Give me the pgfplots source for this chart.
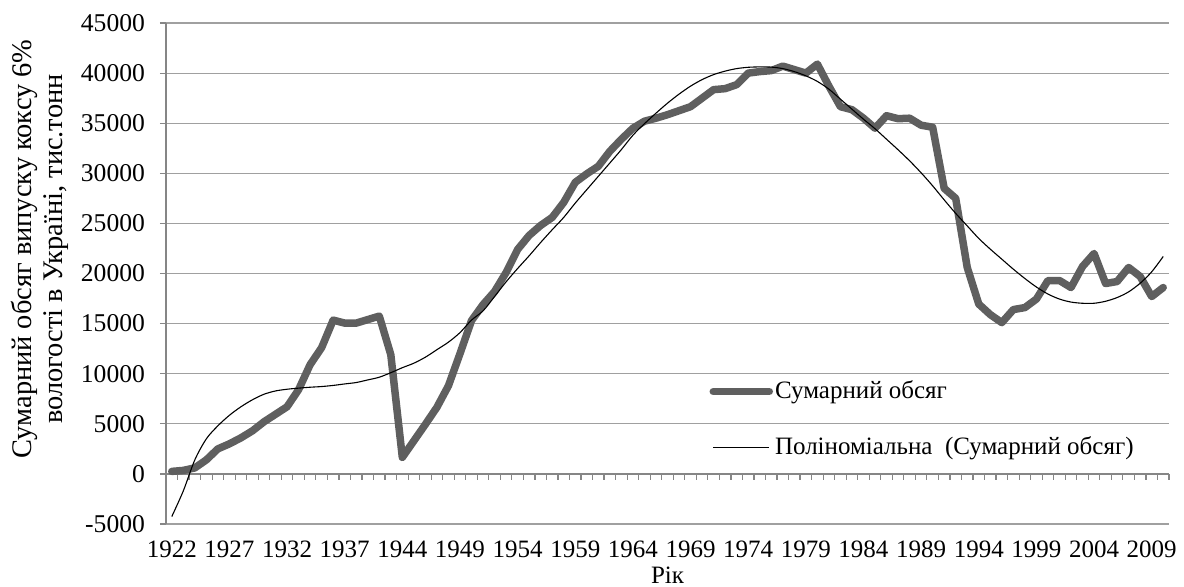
\documentclass[border=0pt]{standalone}
\usepackage{fontspec}
\setmainfont{Liberation Serif}
\usepackage{pgfplots}
\pgfplotsset{compat=1.18}
\definecolor{gridgray}{RGB}{160,160,160}
\definecolor{axisgray}{RGB}{134,134,134}
\definecolor{seriesgray}{RGB}{95,95,95}
\pgfplotstableread{
idx val
0 250
1 350
2 600
3 1400
4 2500
5 3000
6 3600
7 4300
8 5200
9 5950
10 6700
11 8400
12 10900
13 12600
14 15350
15 15050
16 15050
17 15400
18 15750
19 11900
20 1650
21 3300
22 4950
23 6650
24 8800
25 12000
26 15300
27 16900
28 18200
29 20100
30 22400
31 23800
32 24800
33 25600
34 27100
35 29100
36 29950
37 30700
38 32200
39 33400
40 34500
41 35200
42 35500
43 35850
44 36250
45 36650
46 37500
47 38350
48 38450
49 38850
50 40000
51 40150
52 40250
53 40700
54 40350
55 40000
56 40900
57 38700
58 36650
59 36350
60 35500
61 34500
62 35750
63 35450
64 35500
65 34800
66 34600
67 28500
68 27500
69 20600
70 16950
71 15900
72 15100
73 16400
74 16600
75 17450
76 19300
77 19300
78 18600
79 20700
80 22000
81 19000
82 19200
83 20600
84 19700
85 17700
86 18600
}\datatotal
\pgfplotstableread{
idx val
0 -4260
1 -1700
2 1400
3 3500
4 4800
5 5850
6 6700
7 7400
8 7950
9 8280
10 8450
11 8560
12 8650
13 8720
14 8830
15 8980
16 9120
17 9380
18 9650
19 10100
20 10600
21 11050
22 11650
23 12400
24 13150
25 14100
26 15350
27 16270
28 17700
29 19170
30 20500
31 21770
32 23100
33 24370
34 25600
35 27030
36 28370
37 29700
38 31030
39 32370
40 33800
41 34950
42 36000
43 37000
44 37900
45 38700
46 39350
47 39850
48 40200
49 40450
50 40580
51 40620
52 40600
53 40450
54 40150
55 39730
56 39170
57 38400
58 37400
59 36400
60 35400
61 34450
62 33400
63 32350
64 31250
65 30050
66 28750
67 27350
68 26000
69 24750
70 23500
71 22430
72 21430
73 20430
74 19500
75 18650
76 17950
77 17450
78 17150
79 17030
80 17030
81 17230
82 17600
83 18170
84 19030
85 20170
86 21700
}\datatrend
\begin{document}
\begin{tikzpicture}[font=\fontsize{12.5}{15}\selectfont]
\useasboundingbox (-83pt,-31pt) rectangle (509pt,262pt);
\begin{axis}[
  at={(0pt,0pt)}, anchor=south west,
  scale only axis, width=501.5pt, height=250.5pt,
  xmin=-0.5, xmax=86.5, ymin=-5000, ymax=45000,
  axis y line=left, axis x line=middle,
  axis line style={draw=axisgray, line width=0.6pt, -},
  hide obscured x ticks=false, hide obscured y ticks=false,
  ytick={-5000,0,...,45000},
  ymajorgrids, grid style={draw=gridgray, line width=0.6pt},
  xtick={0,5,...,85},
  xticklabels={1922,1927,1932,1937,1944,1949,1954,1959,1964,1969,1974,1979,1984,1989,1994,1999,2004,2009},
  minor xtick={-0.5,0.5,...,86.5},
  major x tick style={draw=none},
  tick style={draw=axisgray, line width=0.6pt},
  tick align=outside,
  major tick length=3pt, minor tick length=3pt,
  xticklabel style={yshift=-27pt},
  yticklabel style={xshift=-4pt, font=\fontsize{12.8}{15}\selectfont},
  scaled y ticks=false,
  /pgf/number format/assume math mode=true,
  /pgf/number format/set thousands separator={},
  xlabel={Рік},
  xlabel style={at={(axis description cs:0.5,-0.102)}, anchor=center},
  ylabel={Сумарний обсяг випуску коксу 6\%\\вологості в Україні, тис.тонн},
  ylabel style={at={(axis description cs:-0.1256,0.549)}, anchor=center, align=center, font=\fontsize{14.2}{15.5}\selectfont},
  legend style={draw=none, fill=none, at={(axis description cs:0.5415,0.2086)}, anchor=west, inner sep=0pt, row sep=13.5pt, font=\fontsize{12.5}{15}\selectfont, nodes={inner xsep=1pt}},
  legend cell align=left,
  legend image code/.code={\draw[#1] (0pt,0pt) -- (28pt,0pt);},
]
\addplot[seriesgray, line width=3.75pt, line join=round, line cap=round] table[x=idx,y=val] {\datatotal};
\addlegendentry{Сумарний обсяг}
\addplot[black, line width=0.55pt, smooth] table[x=idx,y=val] {\datatrend};
\addlegendentry{Поліноміальна\ \ (Сумарний обсяг)}
\end{axis}
\end{tikzpicture}
\end{document}
